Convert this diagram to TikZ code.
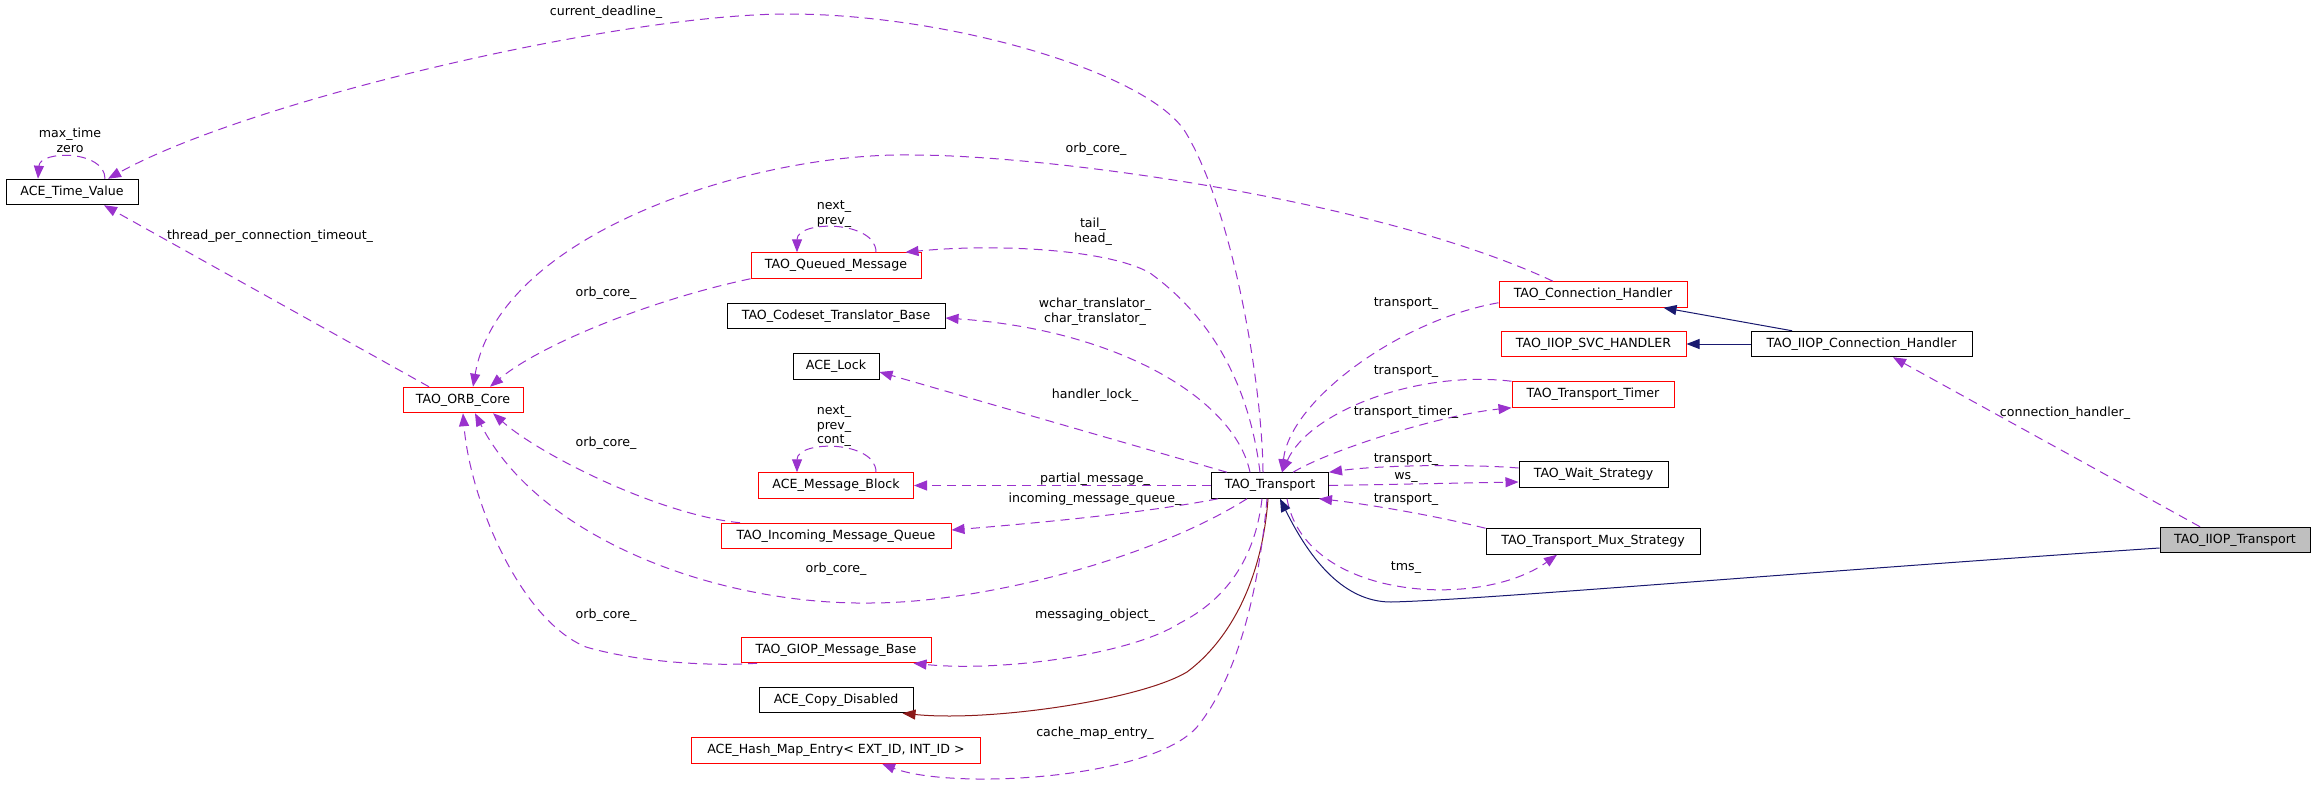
\documentclass[tikz,border=0pt]{standalone}
\usepackage{fontspec}
\setmainfont{DejaVu Sans}
\usetikzlibrary{arrows.meta}
\definecolor{edgep}{HTML}{9A32CD}
\definecolor{navyb}{HTML}{191970}
\definecolor{fireb}{HTML}{8B1A1A}
\definecolor{redb}{HTML}{FF0000}
\definecolor{grayf}{HTML}{BFBFBF}
\newcommand{\fs}{\fontsize{12.6}{14.5}\selectfont}
\begin{document}
\begin{tikzpicture}[x=1pt,y=-1pt,
  box/.style={draw=black, line width=1pt, minimum height=25.5pt, inner sep=0pt, font=\fs, text=black},
  redbox/.style={box, draw=redb},
  lbl/.style={font=\fs, inner sep=0pt, align=center, text=black},
  use/.style={draw=edgep, line width=1pt, dash pattern=on 9pt off 6pt, -{Triangle[length=13pt,width=10pt]}},
  inh/.style={draw=navyb, line width=1pt, -{Triangle[length=13pt,width=10pt]}},
  cpy/.style={draw=fireb, line width=1pt, -{Triangle[length=13pt,width=10pt]}}
]
\useasboundingbox (0,0) rectangle (2312,790);
\fill[white] (0,0) rectangle (2312,790);

% nodes
\node[box, minimum width=132pt] (atv) at (72,192) {ACE\_Time\_Value};
\node[redbox, minimum width=120pt] (orb) at (463,400) {TAO\_ORB\_Core};
\node[redbox, minimum width=170pt] (qm) at (836,265.5) {TAO\_Queued\_Message};
\node[box, minimum width=218pt] (ctb) at (836,316) {TAO\_Codeset\_Translator\_Base};
\node[box, minimum width=86pt] (lock) at (836,366.5) {ACE\_Lock};
\node[redbox, minimum width=155pt] (amb) at (836,485.5) {ACE\_Message\_Block};
\node[redbox, minimum width=230pt] (imq) at (836,536) {TAO\_Incoming\_Message\_Queue};
\node[redbox, minimum width=190pt] (gmb) at (836,650) {TAO\_GIOP\_Message\_Base};
\node[box, minimum width=154pt] (acd) at (836,700) {ACE\_Copy\_Disabled};
\node[redbox, minimum width=289pt] (hme) at (836,750.5) {ACE\_Hash\_Map\_Entry< EXT\_ID, INT\_ID >};
\node[box, minimum width=117pt] (tt) at (1270,485.5) {TAO\_Transport};
\node[redbox, minimum width=188pt] (ch) at (1593,294.5) {TAO\_Connection\_Handler};
\node[redbox, minimum width=185pt] (svc) at (1593.5,344) {TAO\_IIOP\_SVC\_HANDLER};
\node[redbox, minimum width=162pt] (tmr) at (1593,394.5) {TAO\_Transport\_Timer};
\node[box, minimum width=149pt] (ws) at (1593.5,474.5) {TAO\_Wait\_Strategy};
\node[box, minimum width=214pt] (mux) at (1593,541.5) {TAO\_Transport\_Mux\_Strategy};
\node[box, minimum width=221pt] (ich) at (1861.5,344) {TAO\_IIOP\_Connection\_Handler};
\node[box, fill=grayf, minimum width=150pt] (iit) at (2235,540) {TAO\_IIOP\_Transport};

% edges
\draw[use] ([xshift=-7pt]tt.north) .. controls (1262,380) and (1232,210) .. (1186,133)
   .. controls (1150,73) and (950,14) .. (788,14)
   .. controls (620,14) and (250,100) .. ([xshift=36pt]atv.north);
\draw[use] ([xshift=33pt]atv.north) .. controls (105,150) and (40,150) .. ([xshift=-34pt]atv.north);
\draw[use] ([xshift=-34pt]orb.north) -- ([xshift=32pt]atv.south);
\draw[use] ([xshift=-40pt]ch.north) .. controls (1380,200) and (1050,155) .. (912,155)
   .. controls (760,152) and (500,230) .. ([xshift=10pt]orb.north);
\draw[use] (qm.south west) .. controls (650,300) and (540,345) .. ([xshift=27pt]orb.north);
\draw[use] ([xshift=-96pt]imq.north) .. controls (660,515) and (540,455) .. ([xshift=30pt]orb.south);
\draw[use] ([xshift=-23pt]tt.south) .. controls (1150,560) and (980,603) .. (870,603)
   .. controls (720,605) and (540,540) .. ([xshift=12pt]orb.south);
\draw[use] ([xshift=-79pt]gmb.south) .. controls (700,667) and (630,660) .. (586,647)
   .. controls (520,620) and (470,500) .. (orb.south);
\draw[use] ([xshift=-10pt]tt.north) .. controls (1250,390) and (1215,320) .. (1150,273)
   .. controls (1110,250) and (1000,243) .. ([xshift=-16pt]qm.north east);
\draw[use] ([xshift=40pt]qm.north) .. controls (876,220) and (797,220) .. ([xshift=-39pt]qm.north);
\draw[use] ([xshift=-20pt]tt.north) .. controls (1235,400) and (1120,330) .. ([yshift=-2pt]ctb.east);
\draw[use] ([xshift=-43pt]tt.north) -- ([yshift=-5.5pt]lock.east);
\draw[use] ([xshift=40pt]amb.north) .. controls (876,440) and (797,440) .. ([xshift=-39pt]amb.north);
\draw[use] (tt.west) -- (amb.east);
\draw[use] ([xshift=7pt]tt.south west) .. controls (1150,512) and (1050,522) .. ([yshift=6pt]imq.east);
\draw[use] ([xshift=-8pt]tt.south) .. controls (1255,560) and (1225,600) .. (1180,623)
   .. controls (1130,655) and (1000,672) .. ([xshift=-18pt]gmb.south east);
\draw[cpy] ([xshift=-2pt]tt.south) .. controls (1262,580) and (1230,640) .. (1187,672)
   .. controls (1140,700) and (990,722) .. ([xshift=-11pt]acd.south east);
\draw[use] ([xshift=-3pt]tt.south) .. controls (1258,600) and (1235,680) .. (1197,727)
   .. controls (1150,780) and (950,790) .. ([xshift=46pt]hme.south);
\draw[use] ([yshift=5pt]ch.south west) .. controls (1400,320) and (1290,400) .. ([xshift=12pt]tt.north);
\draw[use] (tmr.north west) .. controls (1420,370) and (1310,410) .. ([xshift=12pt]tt.north);
\draw[use] ([xshift=23pt]tt.north) .. controls (1330,450) and (1440,415) .. (tmr.south west);
\draw[use] ([yshift=6.5pt]ws.west) .. controls (1470,464) and (1380,465) .. (tt.north east);
\draw[use] (tt.east) -- ([yshift=-7.5pt]ws.west);
\draw[use] (mux.north west) .. controls (1420,512) and (1350,502) .. ([xshift=-10pt]tt.south east);
\draw[use] ([xshift=17pt]tt.south) .. controls (1305,600) and (1480,610) .. ([xshift=-36pt]mux.south);
\draw[inh] ([yshift=-8pt]iit.west) .. controls (1800,572) and (1480,600) .. (1391,602)
   .. controls (1350,602) and (1315,570) .. ([xshift=10pt]tt.south);
\draw[inh] ([xshift=-69.5pt]ich.north) -- ([xshift=-24pt]ch.south east);
\draw[inh] (ich.west) -- (svc.east);
\draw[use] ([xshift=-35pt]iit.north) -- ([xshift=31.5pt]ich.south);

% labels
\node[lbl] (l1) at (606,12) {current\_deadline\_};
\node[lbl] (l2) at (70,140.5) {max\_time\\zero};
\node[lbl] (l3) at (270,236) {thread\_per\_connection\_timeout\_};
\node[lbl] (l4) at (1096,149) {orb\_core\_};
\node[lbl] (l5) at (606,293) {orb\_core\_};
\node[lbl] (l6) at (834,214) {next\_\\prev\_};
\node[lbl] (l7) at (1093,231.5) {tail\_\\head\_};
\node[lbl] (l8) at (1095,311.5) {wchar\_translator\_\\char\_translator\_};
\node[lbl] (l9) at (1095,395) {handler\_lock\_};
\node[lbl] (l10) at (834,426.5) {next\_\\prev\_\\cont\_};
\node[lbl] (l11) at (606,443) {orb\_core\_};
\node[lbl] (l12) at (1095,479) {partial\_message\_};
\node[lbl] (l13) at (1095,499) {incoming\_message\_queue\_};
\node[lbl] (l14) at (836,569) {orb\_core\_};
\node[lbl] (l15) at (606,615) {orb\_core\_};
\node[lbl] (l16) at (1095,615) {messaging\_object\_};
\node[lbl] (l17) at (1095,733) {cache\_map\_entry\_};
\node[lbl] (l18) at (1406,304) {transport\_};
\node[lbl] (l19) at (1406,372) {transport\_};
\node[lbl] (l20) at (1406,412) {transport\_timer\_};
\node[lbl] (l21) at (1406,460) {transport\_};
\node[lbl] (l22) at (1406,477) {ws\_};
\node[lbl] (l23) at (1406,500) {transport\_};
\node[lbl] (l24) at (1406,568) {tms\_};
\node[lbl] (l25) at (2065,413) {connection\_handler\_};
\end{tikzpicture}
\end{document}
